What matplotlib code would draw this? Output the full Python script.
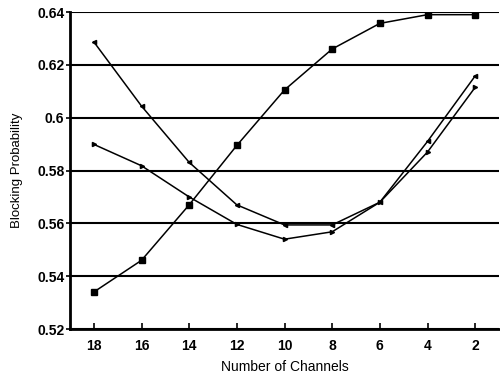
import matplotlib
matplotlib.use("Agg")
import matplotlib.pyplot as plt

# number of channels (axis runs from 18 down to 2)
channels = [18, 16, 14, 12, 10, 8, 6, 4, 2]

# blocking probability for each scheme
prob_square = [0.534, 0.546, 0.567, 0.5895, 0.6105, 0.626, 0.6357, 0.639, 0.639]
prob_upper = [0.6287, 0.6044, 0.5831, 0.567, 0.5594, 0.5594, 0.568, 0.591, 0.6158]
prob_lower = [0.5899, 0.5818, 0.570, 0.5596, 0.554, 0.5568, 0.568, 0.587, 0.6115]

yticks = [0.52, 0.54, 0.56, 0.58, 0.6, 0.62, 0.64]
ytick_labels = ["0.52", "0.54", "0.56", "0.58", "0.6", "0.62", "0.64"]

plt.rcParams['font.family'] = ['Liberation Sans', 'DejaVu Sans']

fig = plt.figure(figsize=(5, 3.76), dpi=100)
ax = fig.add_axes([0.14, 0.125, 0.858, 0.843])

# horizontal grid lines
for y in yticks:
    ax.axhline(y, color='black', lw=1.5, zorder=1)

ax.plot(channels, prob_square, color='black', lw=1.1, marker='s', ms=4, zorder=3)
ax.plot(channels, prob_upper, color='black', lw=1.1, marker='<', ms=3, zorder=3)
ax.plot(channels, prob_lower, color='black', lw=1.1, marker='>', ms=3, zorder=3)

ax.set_xlim(19, 1)
ax.set_ylim(0.52, 0.64)
ax.set_xticks(channels)
ax.set_xticklabels([str(c) for c in channels])
ax.set_yticks(yticks)
ax.set_yticklabels(ytick_labels)

for side in ['top', 'right']:
    ax.spines[side].set_visible(False)
for side in ['left', 'bottom']:
    ax.spines[side].set_linewidth(2)

ax.tick_params(axis='y', direction='out', length=3, width=1.2, labelsize=10, pad=1)
ax.tick_params(axis='x', direction='in', length=4, width=1.2, labelsize=10, pad=7)
for lbl in ax.get_xticklabels() + ax.get_yticklabels():
    lbl.set_fontweight('bold')

ax.set_xlabel('Number of Channels', fontsize=10, labelpad=5)
ax.set_ylabel('Blocking Probability', fontsize=9.5, labelpad=10)

fig.savefig('out.png', dpi=100)
